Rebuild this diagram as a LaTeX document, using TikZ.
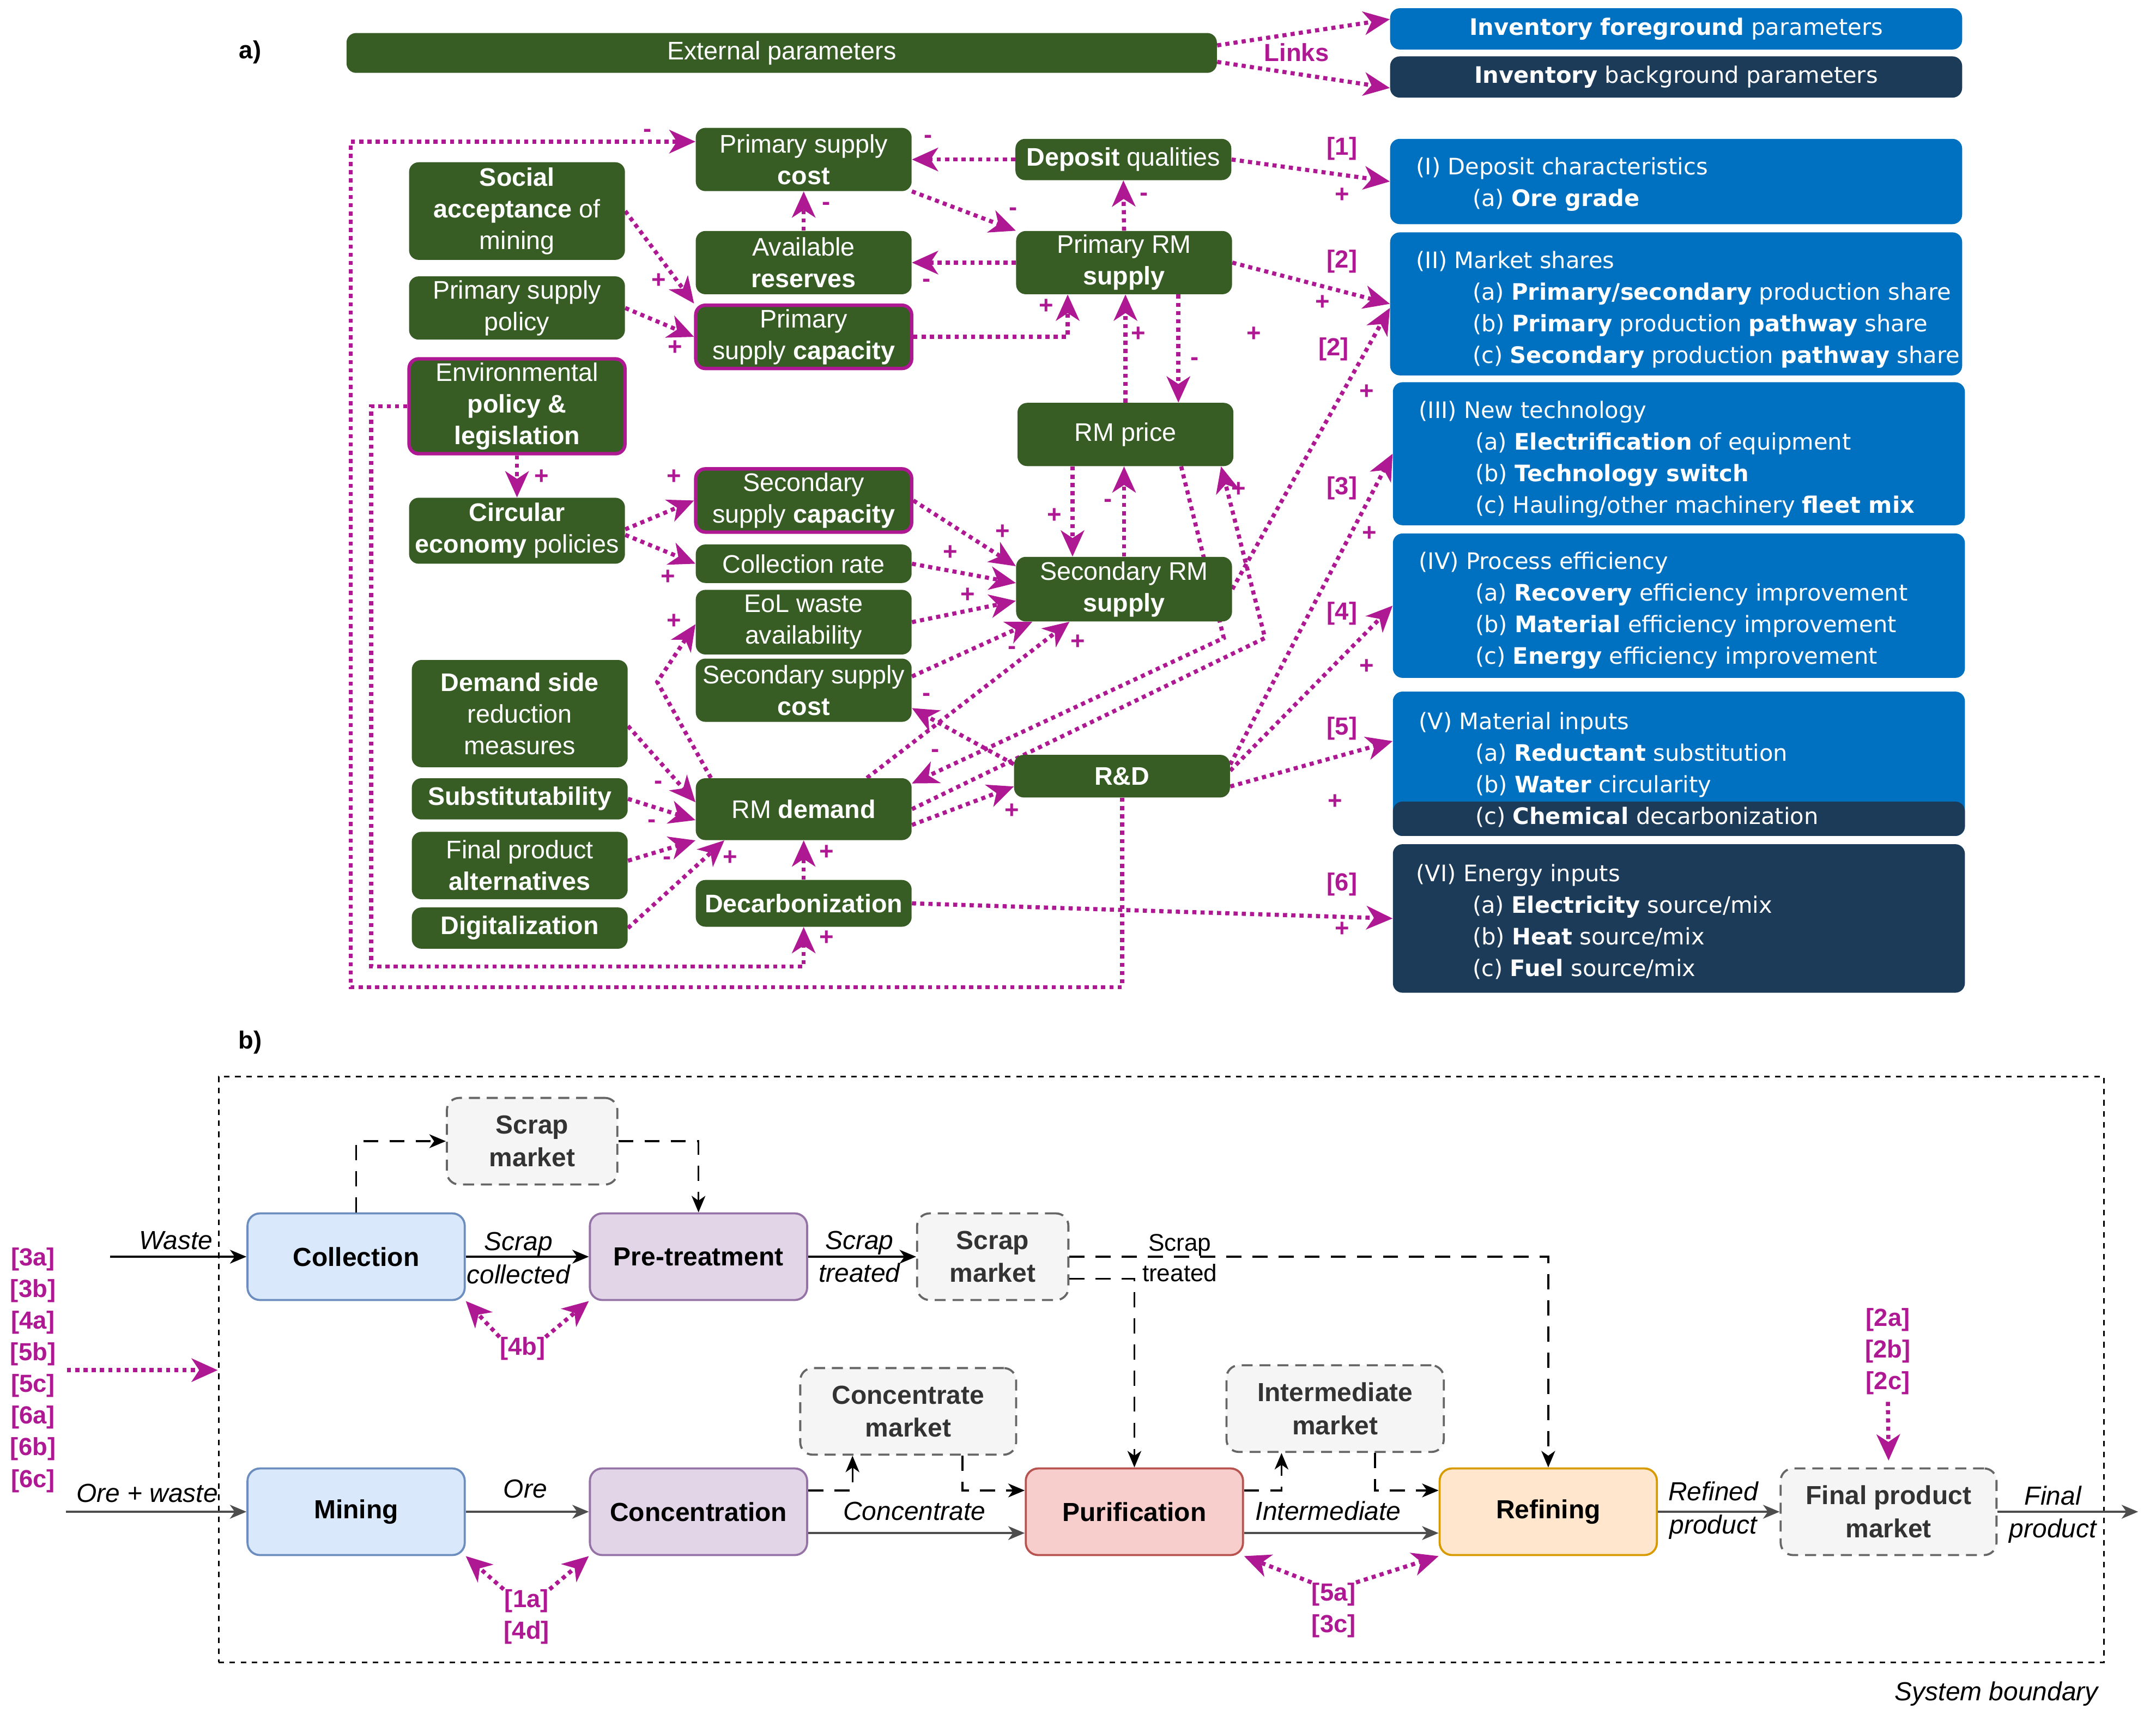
\documentclass[tikz,border=0pt]{standalone}
\usepackage{fontspec}
\setmainfont{Liberation Sans}
\newfontfamily\verdfont{DejaVu Sans}
\usepackage{tikz}
\usetikzlibrary{arrows.meta}
\usetikzlibrary{positioning}
\usetikzlibrary{backgrounds}

\definecolor{grn}{HTML}{375D25}
\definecolor{blu}{HTML}{0070C0}
\definecolor{nvy}{HTML}{1B3B59}
\definecolor{mag}{HTML}{AE1892}
\definecolor{mktfill}{HTML}{F5F5F5}
\definecolor{mktline}{HTML}{666666}
\definecolor{mkttext}{HTML}{333333}
\definecolor{flowgrey}{HTML}{4D4D4D}
\definecolor{bluf}{HTML}{DAE8FC}
\definecolor{blud}{HTML}{6C8EBF}
\definecolor{purf}{HTML}{E1D5E7}
\definecolor{purd}{HTML}{9673A6}
\definecolor{redf}{HTML}{F8CECC}
\definecolor{redd}{HTML}{B85450}
\definecolor{orgf}{HTML}{FFE6CC}
\definecolor{orgd}{HTML}{D79B00}

\tikzset{
  gbox/.style={fill=grn, rounded corners=7pt, text=white, align=center, inner sep=0pt, minimum width=157pt, font=\fontsize{18.5}{23}\selectfont},
  gframe/.style={gbox, draw=mag, line width=2.5pt},
  bbox/.style={fill=blu, rounded corners=7pt, minimum width=416pt, inner sep=0pt, text=white, font=\verdfont\fontsize{16.5}{23}\selectfont},
  nbox/.style={bbox, fill=nvy},
  btxt/.style={anchor=north west, text=white, align=left, inner sep=0pt, font=\verdfont\fontsize{16.5}{23}\selectfont},
  lnk/.style={draw=mag, line width=3pt, dash pattern=on 3pt off 3pt, -{Stealth[length=19pt,width=17pt,inset=5.5pt]}},
  sgn/.style={text=mag, inner sep=0pt, font=\bfseries\fontsize{18}{18}\selectfont},
  refno/.style={text=mag, inner sep=0pt, align=center, font=\bfseries\fontsize{18}{23}\selectfont},
  proc/.style={rounded corners=9pt, line width=1.5pt, minimum width=158pt, minimum height=63pt, inner sep=0pt, align=center, font=\bfseries\fontsize{19}{24}\selectfont},
  mkt/.style={proc, fill=mktfill, draw=mktline, dash pattern=on 8pt off 5pt, text=mkttext},
  flw/.style={draw=black, line width=1.3pt, -{Stealth[length=12pt,width=10pt,inset=3.5pt]}},
  dflw/.style={flw, dash pattern=on 11pt off 8pt},
  gflw/.style={flw, draw=flowgrey, line width=1.6pt},
  lbl/.style={inner sep=0pt, align=center, font=\itshape\fontsize{19}{24}\selectfont},
  hdr/.style={inner sep=0pt, font=\bfseries\fontsize{18}{22}\selectfont},
}

\begin{document}
\begin{tikzpicture}[x=1pt,y=-1pt]
\useasboundingbox (0,0) rectangle (1568,1256);

% ---- a) causal loop part
\node[hdr] (hda) at (182,38) {a)};
\node[gbox, minimum width=633pt, minimum height=29pt] (ext) at (568.5,38.5) {External parameters};
\node[bbox, minimum height=30pt] (ifg) at (1219,21) {\textbf{Inventory foreground} parameters};
\node[nbox, minimum height=30pt] (ibg) at (1219,56) {\textbf{Inventory} background parameters};
\node[text=mag, inner sep=0pt, font=\bfseries\fontsize{18}{22}\selectfont] (lnks) at (943,38) {Links};

\node[gbox, minimum height=71pt] (soc) at (376,153.5) {\textbf{Social}\\\textbf{acceptance} of\\mining};
\node[gbox, minimum height=46pt] (psp) at (376,224) {Primary supply\\policy};
\node[gframe, minimum height=69pt] (env) at (376,295.5) {Environmental\\\textbf{policy \&}\\\textbf{legislation}};
\node[gbox, minimum height=48pt] (cep) at (376,386) {\textbf{Circular}\\\textbf{economy} policies};
\node[gbox, minimum height=78pt] (dsr) at (378,519) {\textbf{Demand side}\\reduction\\measures};
\node[gbox, minimum height=30pt] (sub) at (378,581) {\textbf{Substitutability}};
\node[gbox, minimum height=49pt] (fpa) at (378,629.5) {Final product\\\textbf{alternatives}};
\node[gbox, minimum height=30pt] (dig) at (378,675) {\textbf{Digitalization}};

\node[gbox, minimum height=46pt] (pcost) at (584.5,116) {Primary supply\\\textbf{cost}};
\node[gbox, minimum height=46pt] (avr) at (584.5,191) {Available\\\textbf{reserves}};
\node[gframe, minimum height=46pt] (pcap) at (584.5,245) {Primary\\supply \textbf{capacity}};
\node[gframe, minimum height=46pt] (scap) at (584.5,364) {Secondary\\supply \textbf{capacity}};
\node[gbox, minimum height=28pt] (crate) at (584.5,410) {Collection rate};
\node[gbox, minimum height=47pt] (eol) at (584.5,452.5) {EoL waste\\availability};
\node[gbox, minimum height=46pt] (scost) at (584.5,502) {Secondary supply\\\textbf{cost}};
\node[gbox, minimum height=45pt] (dem) at (584.5,588.5) {RM \textbf{demand}};
\node[gbox, minimum height=34pt] (dec) at (584.5,657) {\textbf{Decarbonization}};

\node[gbox, minimum height=30pt] (dep) at (817,116) {\textbf{Deposit} qualities};
\node[gbox, minimum height=46pt] (prm) at (817.5,191) {Primary RM\\\textbf{supply}};
\node[gbox, minimum height=46pt] (price) at (818.5,316) {RM price};
\node[gbox, minimum height=47pt] (srm) at (817.5,428.5) {Secondary RM\\\textbf{supply}};
\node[gbox, minimum height=31pt] (rnd) at (816,564.5) {\textbf{R\&D}};

\node[bbox, minimum height=62pt] (b1) at (1219,132) {};
\node[bbox, minimum height=104pt] (b2) at (1219,221) {};
\node[bbox, minimum height=104pt] (b3) at (1221,330) {};
\node[bbox, minimum height=105pt] (b4) at (1221,440.5) {};
\node[bbox, minimum height=105pt] (b5) at (1221,555.5) {};
\node[nbox, minimum height=25pt, anchor=south] (b5c) at (b5.south) {};
\node[nbox, minimum height=108pt] (b6) at (1221,668) {};

\node[btxt] (t1) at ([shift={(19pt,-13.5pt)}]b1.north west) {(I) Deposit characteristics\\\hspace*{41pt}(a) \textbf{Ore grade}};
\node[btxt] (t2) at ([shift={(19pt,-13.5pt)}]b2.north west) {(II) Market shares\\\hspace*{41pt}(a) \textbf{Primary/secondary} production share\\\hspace*{41pt}(b) \textbf{Primary} production \textbf{pathway} share\\\hspace*{41pt}(c) \textbf{Secondary} production \textbf{pathway} share};
\node[btxt] (t3) at ([shift={(19pt,-13.5pt)}]b3.north west) {(III) New technology\\\hspace*{41pt}(a) \textbf{Electrification} of equipment\\\hspace*{41pt}(b) \textbf{Technology switch}\\\hspace*{41pt}(c) Hauling/other machinery \textbf{fleet mix}};
\node[btxt] (t4) at ([shift={(19pt,-13.5pt)}]b4.north west) {(IV) Process efficiency\\\hspace*{41pt}(a) \textbf{Recovery} efficiency improvement\\\hspace*{41pt}(b) \textbf{Material} efficiency improvement\\\hspace*{41pt}(c) \textbf{Energy} efficiency improvement};
\node[btxt] (t5) at ([shift={(19pt,-15pt)}]b5.north west) {(V) Material inputs\\\hspace*{41pt}(a) \textbf{Reductant} substitution\\\hspace*{41pt}(b) \textbf{Water} circularity\\\hspace*{41pt}(c) \textbf{Chemical} decarbonization};
\node[btxt] (t6) at ([shift={(17pt,-14.5pt)}]b6.north west) {(VI) Energy inputs\\\hspace*{41pt}(a) \textbf{Electricity} source/mix\\\hspace*{41pt}(b) \textbf{Heat} source/mix\\\hspace*{41pt}(c) \textbf{Fuel} source/mix};

\coordinate (w1) at (816,718);
\coordinate (w2) at (255,718);
\coordinate (w3) at (255,103);
\coordinate (w5) at (270,703);
\coordinate (w6) at (890,464);
\coordinate (w7) at (920,464);
\coordinate (w8) at (478,496);

\begin{pgfonlayer}{background}
\draw[lnk] ([yshift=5.5pt]ext.east) -- ([yshift=7pt]ifg.west);
\draw[lnk] ([yshift=-6.5pt]ext.east) -- ([yshift=-8pt]ibg.west);

\draw[lnk] (rnd.south) -- (w1) -- (w2) -- (w3) -- ([yshift=13pt]pcost.west);
\draw[lnk] (env.west) -| (w5) -| (dec.south);
\draw[lnk] (dep.west) -- (pcost.east);
\draw[lnk] (avr.north) -- (pcost.south);
\draw[lnk] (pcost.south east) -- (prm.north west);
\draw[lnk] (prm.north) -- (dep.south);
\draw[lnk] (prm.west) -- (avr.east);
\draw[lnk] (soc.east) -- (pcap.north west);
\draw[lnk] (psp.east) -- (pcap.west);
\draw[lnk] (pcap.east) -| ([xshift=-41pt]prm.south);
\draw[lnk] (price.north) -- (price.north |- prm.south);
\draw[lnk] ([xshift=39.5pt]prm.south) -- ([xshift=39.5pt]prm.south |- price.north);
\draw[lnk] (prm.east) -- (b2.west);
\draw[lnk] (dep.east) -- (b1.west);

\draw[lnk] (env.south) -- (cep.north);
\draw[lnk] ([yshift=1pt]cep.east) -- (scap.west);
\draw[lnk] ([yshift=-3pt]cep.east) -- (crate.west);
\draw[lnk] (scap.east) -- ([yshift=-7pt]srm.north west);
\draw[lnk] (crate.east) -- ([yshift=4.5pt]srm.west);
\draw[lnk] (eol.east) -- ([yshift=-8.5pt]srm.west);
\draw[lnk] ([yshift=10pt]scost.east) -- ([xshift=12pt]srm.south west);
\draw[lnk] ([xshift=46pt]dem.north) -- ([xshift=39pt]srm.south west);
\draw[lnk] ([xshift=-38.5pt]price.south) -- ([xshift=-38.5pt]price.south |- srm.north);
\draw[lnk] (srm.north) -- (srm.north |- price.south);
\draw[lnk] ([xshift=40.5pt]price.south) -- (w6) -- ([yshift=-4pt]dem.north east);
\draw[lnk] (dem.east) -- (w7) -- ([xshift=69.5pt]price.south);
\draw[lnk] ([yshift=-11.5pt]dem.east) -- ([yshift=-7.5pt]rnd.west);
\draw[lnk] ([yshift=-7pt]rnd.north west) -- ([yshift=-13pt]scost.east);
\draw[lnk] (srm.east) -- ([yshift=-3pt]b2.west);
\draw[lnk] ([yshift=8.5pt]rnd.east) -- (b3.west);
\draw[lnk] ([yshift=4pt]rnd.east) -- (b4.west);
\draw[lnk] ([yshift=-7.5pt]rnd.east) -- ([yshift=16.5pt]b5.west);
\draw[lnk] (dec.east) -- (b6.west);

\draw[lnk] ([yshift=-9pt]dsr.east) -- ([yshift=5pt]dem.west);
\draw[lnk] (sub.east) -- ([yshift=-8pt]dem.west);
\draw[lnk] ([yshift=3.5pt]fpa.east) -- (dem.south west);
\draw[lnk] (dig.east) -- ([xshift=21pt]dem.south west);
\draw[lnk] ([xshift=-67.5pt]dem.north) -- (w8) -- ([yshift=-1.5pt]eol.west);
\draw[lnk] (dec.north) -- (dem.south);
\end{pgfonlayer}

% polarity of each link
\foreach \n/\x/\y/\s in {1/471/97/-, 2/675/101/-, 3/601/150/-, 4/737/154/-, 5/832/143/-,
  6/674/206/-, 7/479/204/+, 8/491/253/+, 9/761/223/+, 10/828/243/+, 11/869/263/-,
  12/912/243/+, 13/962/220/+, 14/976/142/+, 15/394/347/+, 16/490/347/+, 17/486/420/+,
  18/729/387/+, 19/691/402/+, 20/704/433/+, 21/736/473/-, 22/784/467/+, 23/767/375/+,
  24/806/366/-, 25/680/548/-, 26/901/356/+, 27/736/590/+, 28/674/507/-, 29/994/285/+,
  30/996/388/+, 31/994/485/+, 32/971/583/+, 33/976/676/+, 34/479/571/-, 35/474/599/-,
  36/485/626/-, 37/531/624/+, 38/490/452/+, 39/601/620/+, 40/601/682/+}
  \node[sgn] (sg\n) at (\x,\y) {\s};

\node[refno] (r1) at (976,108) {[1]};
\node[refno] (r2) at (976,190) {[2]};
\node[refno] (r2b) at (970,254) {[2]};
\node[refno] (r3) at (976,355) {[3]};
\node[refno] (r4) at (976,446) {[4]};
\node[refno] (r5) at (976,530) {[5]};
\node[refno] (r6) at (976,643) {[6]};

% ---- b) process chain
\node[hdr] (hdb) at (182,758) {b)};
\node[draw, line width=1.3pt, dash pattern=on 4pt off 4pt, minimum width=1371pt, minimum height=426pt, inner sep=0pt] (sysb) at (844.5,996) {};
\node[lbl] (lsb) at (1452,1232) {System boundary};

\node[proc, fill=bluf, draw=blud] (coll) at (259,914) {Collection};
\node[proc, fill=purf, draw=purd] (pre) at (508,914) {Pre-treatment};
\node[mkt, minimum width=124pt] (smk1) at (387,830) {Scrap\\market};
\node[mkt, minimum width=110pt] (smk2) at (722,914) {Scrap\\market};
\node[proc, fill=bluf, draw=blud] (mine) at (259,1099.5) {Mining};
\node[proc, fill=purf, draw=purd] (conc) at (508,1099.5) {Concentration};
\node[mkt, minimum width=157pt] (cmk) at (660.5,1026.5) {Concentrate\\market};
\node[proc, fill=redf, draw=redd] (puri) at (825,1099.5) {Purification};
\node[mkt, minimum width=158pt] (imk) at (971,1024.5) {Intermediate\\market};
\node[proc, fill=orgf, draw=orgd] (refn) at (1126,1099.5) {Refining};
\node[mkt, minimum width=157pt] (fpm) at (1373.5,1099.5) {Final product\\market};

\coordinate (wst) at (80,914);
\coordinate (ore) at (48,1099.5);
\coordinate (fout) at (1555,1099.5);

\draw[flw] (wst) -- (coll.west);
\draw[flw] (coll.east) -- (pre.west);
\draw[flw] (pre.east) -- (smk2.west);
\draw[dflw] (coll.north) |- (smk1.west);
\draw[dflw] (smk1.east) -| (pre.north);
\draw[dflw] (smk2.east) -| (refn.north);
\draw[dflw] ([yshift=-16pt]smk2.east) -| (puri.north);

\draw[gflw] (ore) -- (mine.west);
\draw[gflw] (mine.east) -- (conc.west);
\draw[gflw] ([yshift=-15.5pt]conc.east) -- ([yshift=-15.5pt]puri.west);
\draw[dflw] ([yshift=15.5pt]conc.east) -| ([xshift=-40.5pt]cmk.south);
\draw[dflw] ([xshift=39.5pt]cmk.south) |- ([yshift=15.5pt]puri.west);
\draw[gflw] ([yshift=-15.5pt]puri.east) -- ([yshift=-15.5pt]refn.west);
\draw[dflw] ([yshift=15.5pt]puri.east) -| ([xshift=-39pt]imk.south);
\draw[dflw] ([xshift=29pt]imk.south) |- ([yshift=15.5pt]refn.west);
\draw[gflw] (refn.east) -- (fpm.west);
\draw[gflw] (fpm.east) -- (fout);

\node[lbl] (lwst) at (128,902) {Waste};
\node[lbl] (lscol) at (377,915) {Scrap\\collected};
\node[lbl] (lstr) at (625,914) {Scrap\\treated};
\node[inner sep=0pt, align=center, font=\fontsize{17.5}{22}\selectfont] (lstr2) at (858,915) {Scrap\\treated};
\node[lbl] (lore) at (107,1086) {Ore + waste};
\node[lbl] (lo) at (382,1083) {Ore};
\node[lbl] (lcon) at (665,1099) {Concentrate};
\node[lbl] (lint) at (966,1099) {Intermediate};
\node[lbl] (lref) at (1246,1098.5) {Refined\\product};
\node[lbl] (lfin) at (1493,1101.5) {Final\\product};

% parameters acting on the chain
\node[refno] (lst) at (24,996.5) {[3a]\\{[3b]}\\{[4a]}\\{[5b]}\\{[5c]}\\{[6a]}\\{[6b]}\\{[6c]}};
\node[refno] (l4b) at (380,981) {[4b]};
\node[refno] (l1a) at (383,1176) {[1a]\\{[4d]}};
\node[refno] (l5a) at (970,1171) {[5a]\\{[3c]}};
\node[refno] (l2a) at (1373,983) {[2a]\\{[2b]}\\{[2c]}};

\draw[lnk] ([xshift=8pt]lst.east) -- (lst.east -| sysb.west);
\draw[lnk] (l4b.north west) -- (coll.south east);
\draw[lnk] (l4b.north east) -- (pre.south west);
\draw[lnk] (l1a.north west) -- (mine.south east);
\draw[lnk] (l1a.north east) -- (conc.south west);
\draw[lnk] (l5a.north west) -- (puri.south east);
\draw[lnk] (l5a.north east) -- (refn.south west);
\draw[lnk] ([yshift=-5pt]l2a.south) -- ([yshift=5pt]fpm.north);
\end{tikzpicture}
\end{document}
